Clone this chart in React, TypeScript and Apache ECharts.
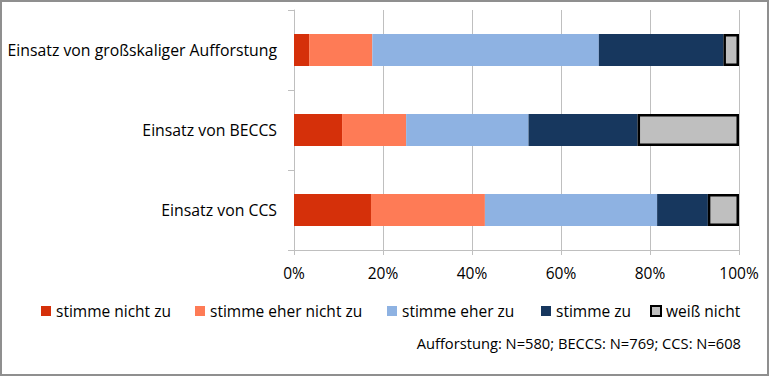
import React, { useEffect, useRef } from "react";
import * as echarts from "echarts";

const categories = [
  "Einsatz von großskaliger Aufforstung",
  "Einsatz von BECCS",
  "Einsatz von CCS",
];
const seriesNames = [
  "stimme nicht zu",
  "stimme eher nicht zu",
  "stimme eher zu",
  "stimme zu",
  "weiß nicht",
];
const stimmeNichtZu = [3.4, 10.8, 17.3];
const stimmeEherNichtZu = [14.2, 14.4, 25.6];
const stimmeEherZu = [50.9, 27.5, 38.7];
const stimmeZu = [28.0, 24.5, 11.4];
const weissNicht = [3.5, 22.8, 7.0];
const xTicks = [0, 20, 40, 60, 80, 100];
const noteText = "Aufforstung: N=580; BECCS: N=769; CCS: N=608";

const FONT = "Open Sans";
const colors = ["#d5300a", "#fe7b56", "#8eb2e2", "#17375e", "#bfbfbf"];
const legendLefts = [41, 195, 387, 541, 650];

export default function App() {
  const ref = useRef<HTMLDivElement>(null);
  useEffect(() => {
    if (!ref.current) return;
    const chart = echarts.init(ref.current, null, { renderer: "svg" });
    const values = [stimmeNichtZu, stimmeEherNichtZu, stimmeEherZu, stimmeZu, weissNicht];
    const series = seriesNames.map((name, i) => ({
      name,
      type: "bar",
      stack: "total",
      barWidth: 32,
      data: values[i],
      itemStyle:
        i === 4
          ? { color: colors[i], borderColor: "#000", borderWidth: 2.5 }
          : { color: colors[i] },
      emphasis: { disabled: true },
    }));
    chart.setOption({
      animation: false,
      textStyle: { fontFamily: FONT },
      grid: { left: 294, right: 31, top: 10, bottom: 127, containLabel: false },
      xAxis: {
        type: "value",
        min: xTicks[0],
        max: xTicks[xTicks.length - 1],
        interval: 20,
        axisLine: { show: true, lineStyle: { color: "#bfbfbf", width: 1 } },
        axisTick: { show: true, length: 5, lineStyle: { color: "#bfbfbf" } },
        splitLine: { show: true, lineStyle: { color: "#bfbfbf", width: 1 } },
        axisLabel: {
          formatter: "{value}%",
          fontSize: 15.5,
          color: "#000",
          fontFamily: FONT,
          margin: 15,
        },
      },
      yAxis: {
        type: "category",
        data: categories,
        inverse: true,
        axisLine: { show: true, lineStyle: { color: "#bfbfbf", width: 1 } },
        axisTick: { show: true, length: 6, lineStyle: { color: "#bfbfbf" } },
        axisLabel: { fontSize: 15.8, color: "#000", fontFamily: FONT, margin: 17 },
      },
      legend: seriesNames.map((n, i) => ({
        data: [n],
        left: legendLefts[i],
        top: 303,
        padding: 0,
        itemWidth: 10,
        itemHeight: 10,
        icon: "rect",
        selectedMode: false,
        textStyle: { fontSize: 15.5, color: "#000", fontFamily: FONT },
      })),
      graphic: [
        {
          type: "rect",
          shape: { x: 1, y: 1, width: 767, height: 374 },
          style: { fill: "none", stroke: "#8f8f8f", lineWidth: 2 },
          silent: true,
        },
        {
          type: "text",
          right: 29,
          top: 335,
          style: { text: noteText, fontSize: 14.7, fontFamily: FONT, fill: "#000" },
        },
      ],
      series,
    });
    return () => chart.dispose();
  }, []);
  return (
    <div
      ref={ref}
      style={{ position: "fixed", left: 0, top: 0, width: 770, height: 377, background: "#fff" }}
    />
  );
}
